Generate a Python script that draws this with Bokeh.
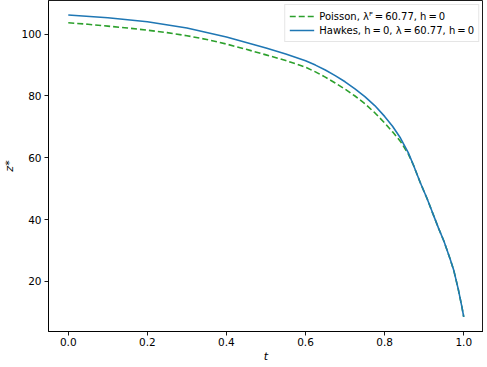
from bokeh.plotting import figure
from bokeh.models import FixedTicker, Range1d, Legend, LegendItem
from bokeh.embed import file_html
from bokeh.resources import INLINE

t_hawkes = [0.0, 0.1, 0.2, 0.3, 0.4, 0.5, 0.55, 0.6, 0.625, 0.65, 0.675, 0.7, 0.725, 0.75, 0.775, 0.8, 0.82, 0.84, 0.86, 0.873,
            0.89, 0.907, 0.92, 0.937, 0.95, 0.965, 0.975, 0.986, 0.995, 1.0]
z_hawkes = [106.2, 105.3, 104.0, 102.0, 99.1, 95.5, 93.6, 91.4, 90.0, 88.4, 86.6, 84.6, 82.3, 79.8, 76.9, 73.4, 70.2, 66.4, 61.6, 57.6,
            52.0, 46.9, 42.6, 37.0, 33.0, 27.5, 23.5, 17.6, 12.0, 8.5]

t_poisson = [0.0, 0.05, 0.1, 0.15, 0.2, 0.25, 0.3, 0.35, 0.4, 0.45, 0.5, 0.55, 0.6, 0.625, 0.65, 0.675, 0.7, 0.725, 0.75, 0.775,
             0.8, 0.82, 0.84, 0.86, 0.873, 0.89, 0.907, 0.92, 0.937, 0.95, 0.965, 0.975, 0.986, 0.995, 1.0]
z_poisson = [103.7, 103.2, 102.6, 102.0, 101.3, 100.5, 99.5, 98.3, 96.8, 95.1, 93.3, 91.5, 89.3, 87.8, 86.1, 84.2, 82.2, 80.0, 77.5, 74.6,
             71.3, 68.4, 65.3, 61.2, 57.6, 52.0, 46.9, 42.6, 37.0, 33.0, 27.5, 23.5, 17.6, 12.0, 8.5]

x_ticks = [0.0, 0.2, 0.4, 0.6, 0.8, 1.0]
y_ticks = [20, 40, 60, 80, 100]

label_poisson = "Poisson, λᴾ\u2009=\u200960.77, h\u2009=\u20090"
label_hawkes = "Hawkes, h\u2009=\u20090, λ\u2009=\u200960.77, h\u2009=\u20090"

FONT = "DejaVu Sans"

p = figure(width=483, height=365, output_backend="svg", toolbar_location=None,
           x_range=Range1d(-0.05, 1.05), y_range=Range1d(3.8, 110.9),
           min_border_left=10, min_border_right=0, min_border_top=0, min_border_bottom=10)

p.grid.visible = False
p.outline_line_color = "black"
p.outline_line_width = 0.9
p.background_fill_color = "white"
p.border_fill_color = "white"

r_p = p.line(t_poisson, z_poisson, line_color="#2ca02c", line_width=1.6, line_dash="6 3")
r_h = p.line(t_hawkes, z_hawkes, line_color="#1f77b4", line_width=1.6)

for ax in (p.xaxis[0], p.yaxis[0]):
    ax.axis_line_color = "black"
    ax.axis_line_width = 0.9
    ax.major_tick_in = 0
    ax.major_tick_out = 4
    ax.major_tick_line_width = 0.9
    ax.minor_tick_line_color = None
    ax.major_label_text_font = FONT
    ax.major_label_text_font_size = "10.5px"
    ax.major_label_text_color = "black"
    ax.axis_label_text_font = FONT
    ax.axis_label_text_font_size = "11px"
    ax.axis_label_text_font_style = "italic"
    ax.axis_label_text_color = "black"

p.xaxis.ticker = FixedTicker(ticks=x_ticks)
p.yaxis.ticker = FixedTicker(ticks=y_ticks)
p.xaxis.major_label_overrides = {v: f"{v:.1f}" for v in x_ticks}
p.xaxis.axis_label = "t"
p.yaxis.axis_label = "z*"
p.xaxis.major_label_standoff = 2
p.yaxis.major_label_standoff = 3
p.xaxis.axis_label_standoff = 1
p.yaxis.axis_label_standoff = 2

legend = Legend(items=[LegendItem(label=label_poisson, renderers=[r_p]),
                       LegendItem(label=label_hawkes, renderers=[r_h])],
                location="top_right")
legend.label_text_font = FONT
legend.label_text_font_size = "10px"
legend.label_text_color = "black"
legend.border_line_color = "#cccccc"
legend.border_line_width = 1
legend.background_fill_alpha = 0.8
legend.margin = 4
legend.padding = 4
legend.spacing = 0
legend.glyph_width = 25
legend.glyph_height = 14
legend.label_height = 14
legend.label_standoff = 5
p.add_layout(legend)

open("out.html", "w").write(file_html(p, INLINE))
